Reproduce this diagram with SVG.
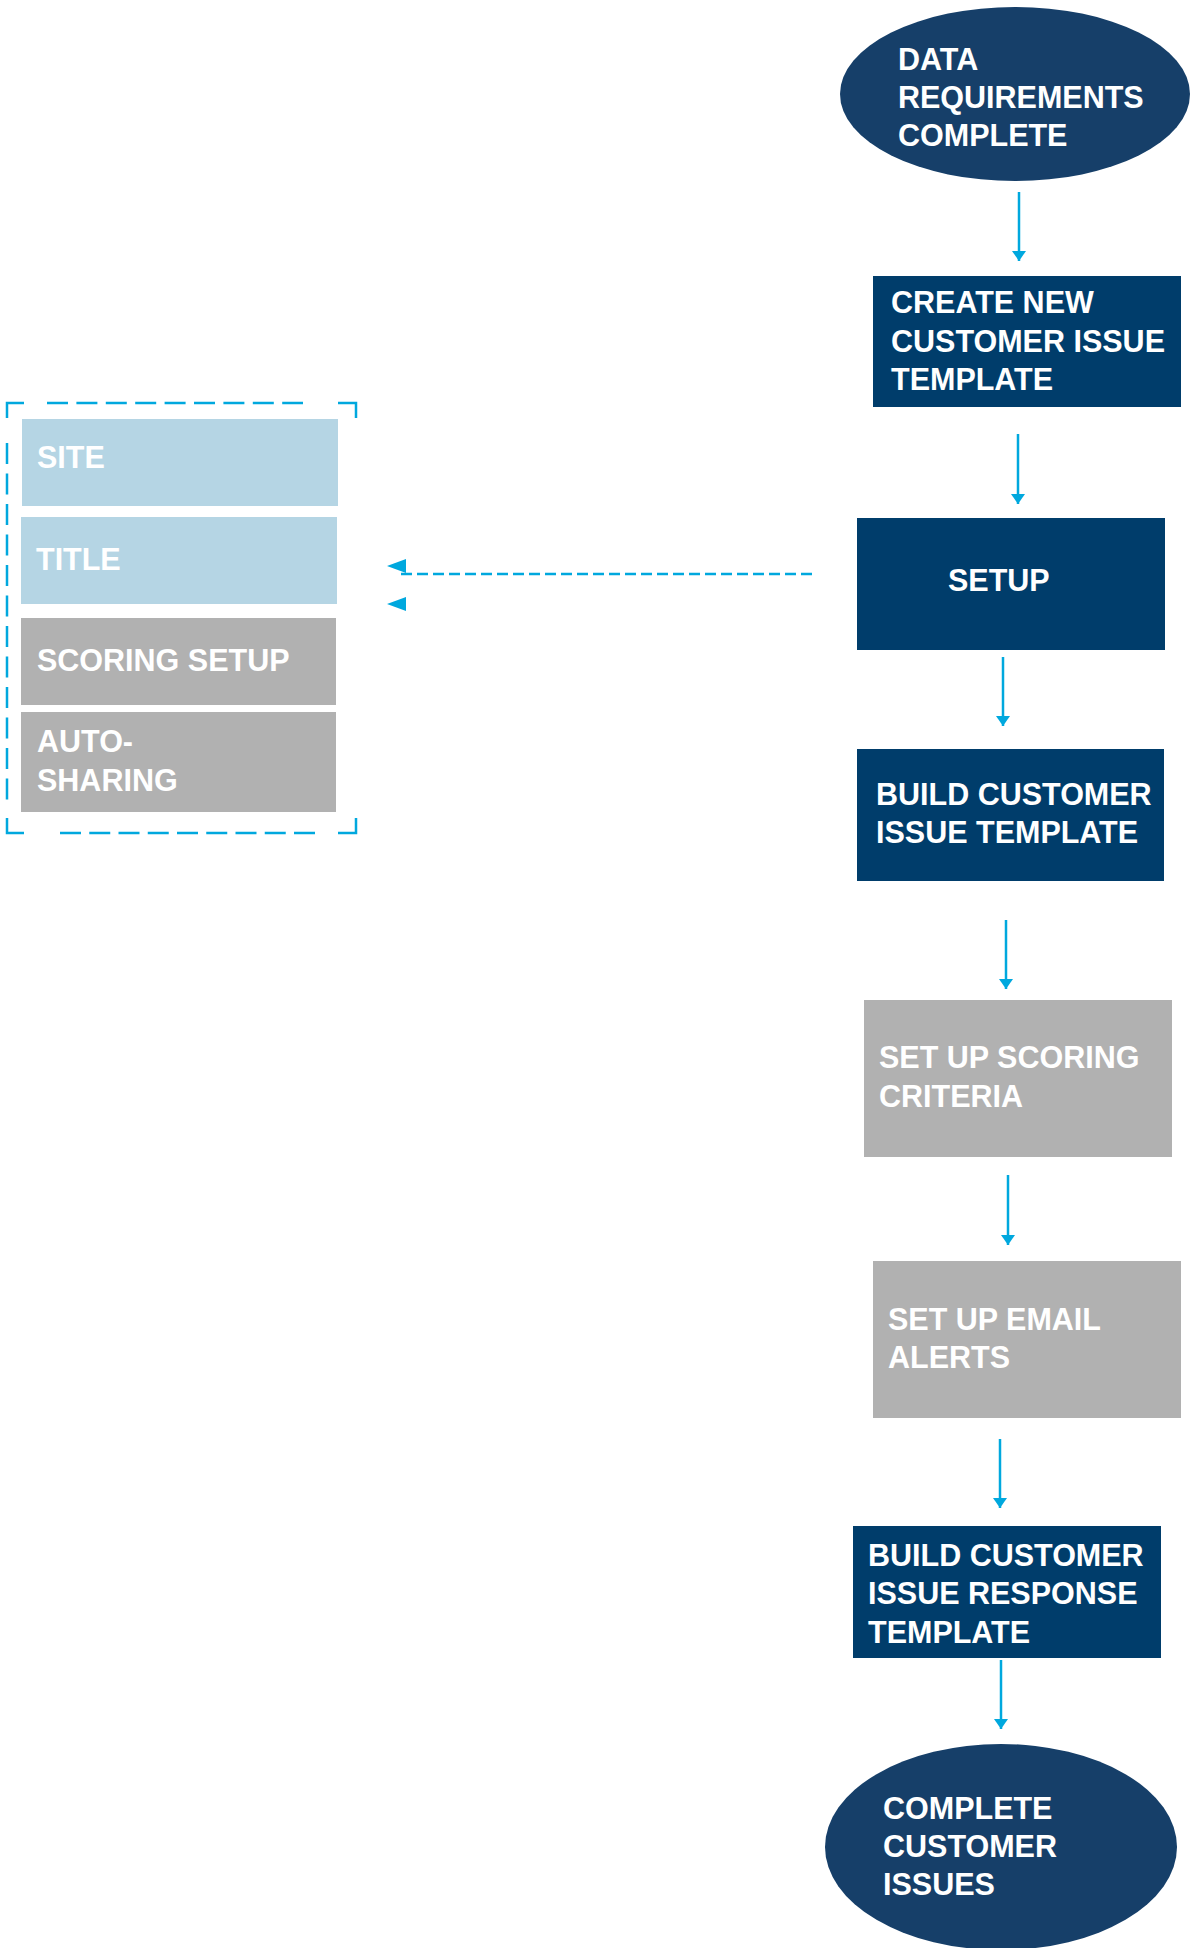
<svg xmlns="http://www.w3.org/2000/svg" width="1190" height="1948" viewBox="0 0 1190 1948">
  <style>
    .navy { fill: #003D6B; }
    .oval { fill: #163F69; }
    .light { fill: #B5D5E4; }
    .grey { fill: #B1B1B1; }
    .label { font-family: "Liberation Sans", Arial, sans-serif; font-weight: bold; font-size: 30.5px; fill: #FFFFFF; }
    .flow { stroke: #00A8DE; stroke-width: 2.5; fill: none; }
    .dash { stroke: #00A8DE; stroke-width: 2.5; fill: none; stroke-dasharray: 11 5; }
    .frame { stroke: #00A8DE; stroke-width: 2.5; fill: none; }
    .tip { fill: #00A8DE; }
  </style>
  <defs>
    <!-- arrowhead drawn along +x, rotated to the line direction -->
    <marker id="arrow" markerUnits="userSpaceOnUse" markerWidth="10" markerHeight="14" viewBox="0 0 10 14" refX="10" refY="7" orient="auto">
      <path d="M0,0 L10,7 L0,14 Z" class="tip"/>
    </marker>
  </defs>

  <rect width="1190" height="1948" fill="#FFFFFF"/>

  <!-- connectors -->
  <g id="connectors">
    <line class="flow" x1="1019" y1="192" x2="1019" y2="261" marker-end="url(#arrow)"/>
    <line class="flow" x1="1018" y1="434" x2="1018" y2="504" marker-end="url(#arrow)"/>
    <line class="flow" x1="1003" y1="657" x2="1003" y2="726" marker-end="url(#arrow)"/>
    <line class="flow" x1="1006" y1="920" x2="1006" y2="989" marker-end="url(#arrow)"/>
    <line class="flow" x1="1008" y1="1175" x2="1008" y2="1245" marker-end="url(#arrow)"/>
    <line class="flow" x1="1000" y1="1439" x2="1000" y2="1508" marker-end="url(#arrow)"/>
    <line class="flow" x1="1001" y1="1660" x2="1001" y2="1729" marker-end="url(#arrow)"/>
    <!-- setup detail link -->
    <line class="dash" x1="401" y1="574" x2="814" y2="574"/>
    <polygon class="tip" points="387,566 406,559 406,573"/>
    <polygon class="tip" points="387,604 406,597 406,611"/>
  </g>

  <!-- setup detail panel -->
  <g id="setup-panel">
    <g id="panel-frame" class="frame">
      <!-- corner brackets -->
      <path d="M7,418 V403 H24"/>
      <path d="M338,403 H356 V418"/>
      <path d="M7,818 V833 H24"/>
      <path d="M338,833 H356 V818"/>
      <!-- dashed sides -->
      <line x1="47" y1="403" x2="303" y2="403" stroke-dasharray="21 8.4"/>
      <line x1="60" y1="833" x2="315" y2="833" stroke-dasharray="21 8.25"/>
      <line x1="7" y1="443" x2="7" y2="800" stroke-dasharray="21 9.5"/>
    </g>
    <g id="site">
      <rect class="light" x="22" y="419" width="316" height="87"/>
      <text class="label" x="37" y="468">SITE</text>
    </g>
    <g id="title">
      <rect class="light" x="21" y="517" width="316" height="87"/>
      <text class="label" x="36" y="570">TITLE</text>
    </g>
    <g id="scoring-setup">
      <rect class="grey" x="21" y="618" width="315" height="87"/>
      <text class="label" x="37" y="671">SCORING SETUP</text>
    </g>
    <g id="auto-sharing">
      <rect class="grey" x="21" y="712" width="315" height="100"/>
      <text class="label" x="37" y="752">AUTO-</text>
      <text class="label" x="37" y="791">SHARING</text>
    </g>
  </g>

  <!-- main flow -->
  <g id="data-requirements">
    <ellipse class="oval" cx="1015" cy="94" rx="175" ry="87"/>
    <text class="label" x="898" y="70">DATA</text>
    <text class="label" x="898" y="108">REQUIREMENTS</text>
    <text class="label" x="898" y="146">COMPLETE</text>
  </g>

  <g id="create-template">
    <rect class="navy" x="873" y="276" width="308" height="131"/>
    <text class="label" x="891" y="313">CREATE NEW</text>
    <text class="label" x="891" y="352">CUSTOMER ISSUE</text>
    <text class="label" x="891" y="390">TEMPLATE</text>
  </g>

  <g id="setup">
    <rect class="navy" x="857" y="518" width="308" height="132"/>
    <text class="label" x="948" y="591">SETUP</text>
  </g>

  <g id="build-issue-template">
    <rect class="navy" x="857" y="749" width="307" height="132"/>
    <text class="label" x="876" y="805">BUILD CUSTOMER</text>
    <text class="label" x="876" y="843">ISSUE TEMPLATE</text>
  </g>

  <g id="scoring-criteria">
    <rect class="grey" x="864" y="1000" width="308" height="157"/>
    <text class="label" x="879" y="1068">SET UP SCORING</text>
    <text class="label" x="879" y="1107">CRITERIA</text>
  </g>

  <g id="email-alerts">
    <rect class="grey" x="873" y="1261" width="308" height="157"/>
    <text class="label" x="888" y="1330">SET UP EMAIL</text>
    <text class="label" x="888" y="1368">ALERTS</text>
  </g>

  <g id="build-response-template">
    <rect class="navy" x="853" y="1526" width="308" height="132"/>
    <text class="label" x="868" y="1566">BUILD CUSTOMER</text>
    <text class="label" x="868" y="1604">ISSUE RESPONSE</text>
    <text class="label" x="868" y="1643">TEMPLATE</text>
  </g>

  <g id="complete-issues">
    <ellipse class="oval" cx="1001" cy="1847" rx="176" ry="103"/>
    <text class="label" x="883" y="1819">COMPLETE</text>
    <text class="label" x="883" y="1857">CUSTOMER</text>
    <text class="label" x="883" y="1895">ISSUES</text>
  </g>
</svg>
